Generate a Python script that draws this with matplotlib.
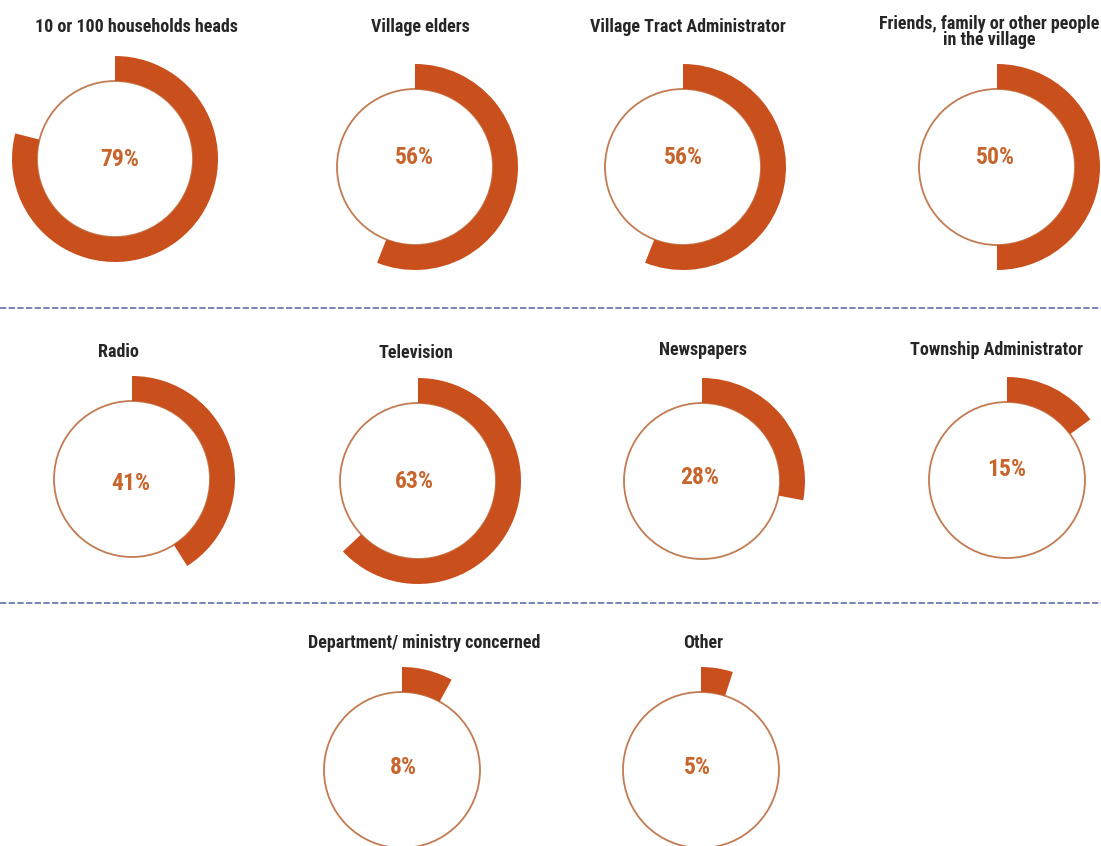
import matplotlib
matplotlib.use("Agg")
import matplotlib.pyplot as plt
from matplotlib.patches import Wedge, Circle
from matplotlib import font_manager

# ---- data -------------------------------------------------------------
sources = [
    "10 or 100 households heads",
    "Village elders",
    "Village Tract Administrator",
    "Friends, family or other people\nin the village",
    "Radio",
    "Television",
    "Newspapers",
    "Township Administrator",
    "Department/ ministry concerned",
    "Other",
]
shares = [79, 56, 56, 50, 41, 63, 28, 15, 8, 5]

# ---- layout (pixel coordinates on a 1101 x 846 canvas) ----------------
W, H = 1101, 846
centers = [(115, 159), (415, 167), (683, 167), (997, 167),
           (132, 479), (418, 481), (702, 481), (1007, 480),
           (402, 770), (701, 770)]
title_pos = [(136, 27), (420, 27), (688, 27), (989, 32),
             (118, 352), (416, 353), (703, 350), (997, 350),
             (424, 643), (703, 643)]
label_pos = [(120, 159), (414, 157), (683, 157), (995, 157),
             (131, 483), (414, 482), (700, 478), (1007, 470),
             (403, 768), (697, 768)]
separators_y = [308, 603]

R_IN = 78
RING = 25

ARC_COLOR = "#C9501D"
RING_LINE = "#C27B52"
PCT_COLOR = "#C7652C"
TITLE_COLOR = "#262626"
SEP_COLOR = "#7178B2"

# pick a narrow sans face if one is installed
available = {f.name for f in font_manager.fontManager.ttflist}
narrow = [n for n in ("Roboto Condensed", "Liberation Sans Narrow",
                      "DejaVu Sans Condensed", "Open Sans Condensed",
                      "Roboto", "DejaVu Sans") if n in available]
family = narrow[0] if narrow else "DejaVu Sans"
stretch = "condensed" if family == "DejaVu Sans" else "normal"

fig = plt.figure(figsize=(W / 100, H / 100), dpi=100)
ax = fig.add_axes([0, 0, 1, 1])
ax.set_xlim(0, W)
ax.set_ylim(H, 0)
ax.set_aspect("equal")
ax.axis("off")

for name, value, (cx, cy), (tx, ty), (lx, ly) in zip(
        sources, shares, centers, title_pos, label_pos):
    # thin outline of the full circle
    ax.add_patch(Circle((cx, cy), R_IN, fill=False, lw=1.3,
                        ec=RING_LINE, zorder=2))
    # thick arc outside the circle, clockwise from 12 o'clock
    start = 270
    ax.add_patch(Wedge((cx, cy), R_IN + RING, start, start + 360 * value / 100,
                       width=RING, fc=ARC_COLOR, ec="none", zorder=3))
    ax.text(lx, ly, f"{value}%", ha="center", va="center",
            color=PCT_COLOR, fontsize=17, fontweight="bold",
            family=family, fontstretch=stretch, zorder=4)
    ax.text(tx, ty, name, ha="center", va="center", color=TITLE_COLOR,
            fontsize=13, fontweight="bold", family=family,
            fontstretch=stretch, linespacing=0.9, zorder=4)

for y in separators_y:
    ax.plot([0, W], [y, y], color=SEP_COLOR, lw=1.3,
            dashes=(3.5, 1.3), zorder=1)

fig.savefig("out.png", dpi=100, facecolor="white")
